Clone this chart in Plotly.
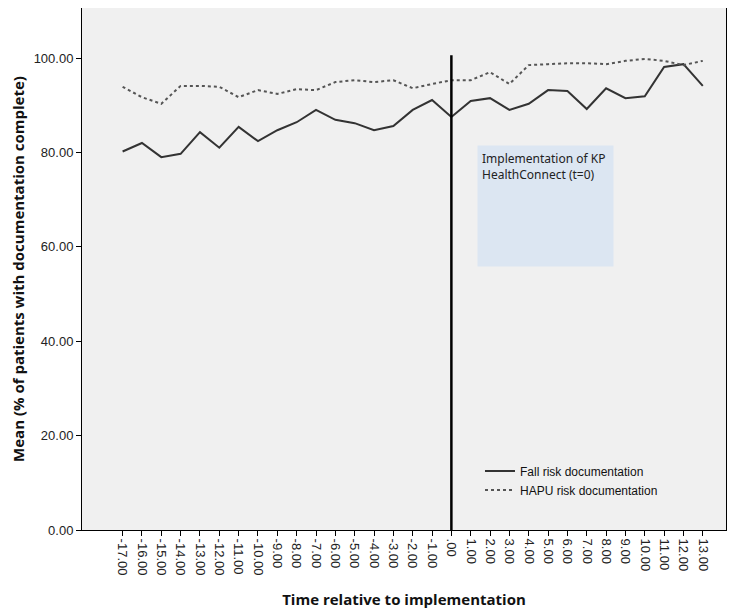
import plotly.graph_objects as go

# time relative to implementation (months)
months = list(range(-17, 14))
tick_labels = [".00" if m == 0 else f"{m}.00" for m in months]

fall_risk = [80.2, 82.0, 79.0, 79.7, 84.3, 81.0, 85.4, 82.4, 84.7, 86.4, 89.0,
             86.9, 86.2, 84.7, 85.6, 89.0, 91.1, 87.5, 90.9, 91.5, 89.0, 90.3,
             93.2, 93.0, 89.2, 93.6, 91.5, 91.9, 98.1, 98.7, 94.1]
hapu_risk = [93.9, 91.7, 90.3, 94.1, 94.1, 93.9, 91.7, 93.2, 92.4, 93.4, 93.2,
             94.9, 95.3, 94.9, 95.3, 93.6, 94.5, 95.3, 95.3, 97.0, 94.5, 98.5,
             98.7, 98.9, 98.9, 98.7, 99.4, 99.8, 99.4, 98.5, 99.4]

impl_x = [0, 0]
impl_y = [0, 100.6]

fig = go.Figure()
fig.add_trace(go.Scatter(x=months, y=fall_risk, mode="lines", name="Fall risk documentation",
                         line=dict(color="#333333", width=2)))
fig.add_trace(go.Scatter(x=months, y=hapu_risk, mode="lines", name="HAPU risk documentation",
                         line=dict(color="#555555", width=2, dash="dot")))
fig.add_trace(go.Scatter(x=impl_x, y=impl_y, mode="lines", showlegend=False,
                         line=dict(color="black", width=2.5)))

fig.add_annotation(x=1.31, y=81.6, xref="x", yref="y", xanchor="left", yanchor="top",
                   text="Implementation of KP<br>HealthConnect (t=0)", showarrow=False,
                   align="left", valign="top", width=127, height=112, borderpad=4,
                   bgcolor="#dce6f2", font=dict(family="Noto Sans", size=12, color="#222"))

# page body adds an 8px offset, so the figure is sized to fit inside the window
axis_font = dict(family="Liberation Sans", size=13, color="#222")
fig.update_layout(
    width=739, height=604,
    paper_bgcolor="white", plot_bgcolor="#f0f0f0",
    margin=dict(l=74, r=21, t=0, b=82),
    font=axis_font,
    showlegend=True,
    legend=dict(x=0.618, y=0.141, xanchor="left", yanchor="top", bgcolor="rgba(0,0,0,0)",
                font=dict(family="Liberation Sans", size=12, color="#111"),
                itemwidth=30, tracegroupgap=0),
    xaxis=dict(range=[-19.1, 14.2], tickvals=months, ticktext=tick_labels, tickangle=90,
               ticks="outside", ticklen=5, tickcolor="black", showgrid=False, zeroline=False,
               showline=True, linecolor="black", linewidth=1, mirror=True, automargin=False,
               title=dict(text="<b>Time relative to implementation</b>",
                          font=dict(family="Open Sans", size=15, color="#111"), standoff=20)),
    yaxis=dict(range=[0, 110.6], tickvals=[0, 20, 40, 60, 80, 100],
               ticktext=["0.00", "20.00", "40.00", "60.00", "80.00", "100.00"],
               ticks="outside", ticklen=5, tickcolor="black", showgrid=False, zeroline=False,
               showline=True, linecolor="black", linewidth=1, mirror=True, automargin=False,
               title=dict(text="<b>Mean (% of patients with documentation complete)</b>",
                          font=dict(family="Open Sans", size=15, color="#111"), standoff=11)),
)

fig.write_html("out.html")
